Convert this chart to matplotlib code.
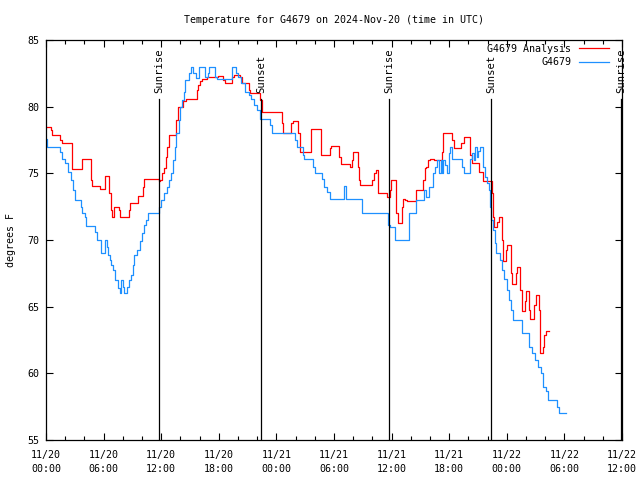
import pandas as pd
import matplotlib
matplotlib.use("Agg")
from matplotlib import pyplot as plt
import matplotlib.dates as mdates

# hours after 2024-11-20 00:00 UTC, temperature in F
obs_hours = [0.0, 0.15, 1.5, 1.7, 2.0, 2.3, 2.6, 2.8, 3.0, 3.6, 3.8, 4.05, 4.2, 5.1, 5.3,
             5.7, 6.15, 6.35, 6.5, 6.7, 6.8, 7.0, 7.2, 7.5, 7.7, 7.85, 8.0, 8.15, 8.45, 8.65,
             8.9, 9.05, 9.2, 9.5, 9.75, 10.0, 10.25, 10.45, 10.6, 11.8, 12.0, 12.3, 12.6, 12.8,
             13.0, 13.2, 13.4, 13.5, 13.9, 14.0, 14.2, 14.4, 14.5, 14.9, 15.1, 15.3, 15.6, 15.9,
             16.6, 16.85, 17.0, 17.6, 17.85, 19.35, 19.8, 20.0, 20.3, 20.7, 21.1, 21.4, 21.7,
             22.0, 22.3, 23.3, 23.5, 25.9, 26.1, 26.8, 26.9, 27.85, 28.0, 28.75, 28.95, 29.3,
             29.6, 31.05, 31.2, 32.9, 35.6, 35.8, 36.4, 37.8, 38.5, 39.4, 39.6, 39.85, 40.3,
             40.55, 40.75, 40.95, 41.1, 41.25, 41.4, 41.6, 41.8, 41.95, 42.1, 42.3, 43.3, 43.5,
             44.2, 44.4, 44.55, 44.7, 44.85, 45.0, 45.2, 45.55, 45.7, 45.9, 46.1, 46.2, 46.4,
             46.6, 46.8, 46.9, 47.3, 47.5, 47.7, 48.0, 48.2, 48.4, 48.6, 49.55, 50.35, 50.65,
             50.9, 51.2, 51.55, 51.75, 52.1, 52.3, 53.2, 53.4, 54.2]
obs_temp = [77.6, 77.0, 76.6, 76.1, 75.8, 75.1, 74.5, 73.75, 73.0, 72.5, 72.0, 71.75, 71.05, 70.6, 70.0,
            69.0, 70.0, 69.5, 68.9, 68.5, 68.1, 67.75, 67.0, 66.4, 66.0, 67.0, 66.5, 66.0, 66.5, 67.0,
            67.4, 68.1, 68.9, 69.25, 69.9, 70.5, 71.1, 71.5, 72.0, 72.5, 73.0, 73.5, 74.0, 74.5,
            75.0, 76.0, 77.0, 78.0, 79.0, 80.0, 80.5, 81.1, 82.0, 82.5, 83.0, 82.5, 82.15, 83.0,
            82.25, 82.5, 83.0, 82.2, 82.1, 83.0, 82.5, 82.2, 81.75, 81.1, 80.9, 80.6, 80.1,
            79.75, 79.1, 78.6, 78.05, 77.5, 77.0, 76.4, 76.05, 75.5, 75.0, 74.55, 74.0, 73.6,
            73.05, 74.05, 73.05, 72.0, 71.1, 71.0, 70.0, 72.0, 73.0, 73.75, 73.2, 74.0, 75.0,
            75.5, 76.0, 75.0, 76.0, 75.0, 76.0, 75.6, 75.0, 76.5, 77.0, 76.05, 75.5, 75.0,
            76.1, 76.5, 76.0, 77.0, 76.2, 76.7, 77.0, 75.5, 74.75, 74.25, 73.75, 72.5, 71.5,
            70.75, 69.75, 69.0, 68.5, 67.75, 67.05, 66.25, 65.5, 64.75, 64.0, 63.05, 62.0, 61.5,
            61.0, 60.5, 60.0, 59.0, 58.7, 58.0, 57.5, 57.0, 57.0]

ana_hours = [0.0, 0.5, 0.6, 1.5, 1.7, 2.7, 3.8, 4.7, 4.8, 5.6, 6.15, 6.6, 6.75, 6.85, 7.1,
             7.6, 7.7, 8.6, 8.75, 9.6, 10.1, 10.25, 11.75, 11.9, 12.1, 12.3, 12.5, 12.6, 12.8,
             13.55, 13.7, 13.8, 14.3, 14.6, 15.7, 15.85, 16.0, 16.3, 16.8, 17.5, 17.9, 18.4,
             18.65, 19.35, 19.55, 20.25, 20.4, 21.1, 21.3, 22.3, 22.45, 24.55, 24.65, 25.5,
             25.7, 26.3, 26.5, 27.6, 28.6, 29.55, 29.65, 30.5, 30.7, 31.7, 31.85, 32.0, 32.45,
             32.6, 32.75, 33.95, 34.2, 34.4, 34.6, 35.5, 35.85, 35.95, 36.5, 36.65, 37.05,
             37.15, 37.4, 37.6, 38.5, 39.3, 39.45, 39.6, 39.8, 39.95, 40.45, 41.25, 41.4,
             42.25, 42.5, 43.2, 43.5, 44.2, 44.35, 45.15, 45.5, 46.45, 46.55, 46.7, 47.0,
             47.15, 47.45, 47.6, 47.95, 48.05, 48.45, 48.55, 48.95, 49.1, 49.4, 49.55, 49.9,
             50.05, 50.35, 50.45, 50.85, 51.0, 51.35, 51.45, 51.8, 51.9, 52.05, 52.4]
ana_temp = [78.5, 78.25, 77.9, 77.5, 77.3, 75.3, 76.05, 74.5, 74.05, 73.85, 74.8, 73.5, 72.25, 71.75, 72.5,
            72.25, 71.75, 72.25, 72.8, 73.3, 74.0, 74.55, 74.4, 74.5, 75.0, 75.4, 76.25, 77.0, 77.9,
            79.0, 79.75, 80.0, 80.4, 80.6, 81.25, 81.6, 81.9, 82.05, 82.2, 82.25, 82.3, 82.0,
            81.75, 82.2, 82.4, 82.2, 81.75, 81.25, 81.0, 80.5, 79.6, 78.75, 78.05, 78.75,
            78.9, 78.0, 76.6, 78.3, 76.4, 76.9, 77.05, 76.25, 75.7, 75.5, 76.0, 76.6, 75.5,
            74.5, 74.1, 74.5, 75.0, 75.25, 73.5, 73.25, 73.75, 74.5, 72.0, 71.25, 72.5,
            73.1, 73.0, 72.9, 73.75, 74.5, 75.4, 75.5, 76.0, 76.1, 76.0, 76.6, 78.05,
            77.5, 76.9, 77.25, 77.7, 76.4, 75.75, 75.1, 74.4, 73.5, 71.75, 70.95, 71.35,
            71.75, 70.0, 68.4, 69.25, 69.6, 67.5, 66.7, 67.5, 68.0, 66.25, 64.7, 65.4,
            66.2, 64.75, 64.1, 65.1, 65.9, 64.75, 61.5, 62.0, 62.9, 63.2, 63.2]

sun_hours = [11.78, 22.4, 35.77, 46.37, 59.9]
sun_labels = ["Sunrise", "Sunset", "Sunrise", "Sunset", "Sunrise"]

base = pd.Timestamp("2024-11-20 00:00")
obs_t = base + pd.to_timedelta(obs_hours, unit="h")
ana_t = base + pd.to_timedelta(ana_hours, unit="h")
sun_t = base + pd.to_timedelta(sun_hours, unit="h")

plt.rcParams["font.family"] = "DejaVu Sans Mono"
plt.rcParams["font.size"] = 7.2

fig = plt.figure(figsize=(6.4, 4.8), dpi=100)
ax = fig.add_axes([46 / 640, 40 / 480, 576 / 640, 400 / 480])

ax.plot(ana_t, ana_temp, color="#ff0000", lw=0.9, drawstyle="steps-post", label="G4679 Analysis")
ax.plot(obs_t, obs_temp, color="#1e90ff", lw=0.9, drawstyle="steps-post", label="G4679")

for t, lab in zip(sun_t, sun_labels):
    ax.plot([t, t], [55, 80.6], color="black", lw=0.9)
    ax.text(t, 81.0, lab, rotation=90, ha="center", va="bottom", fontsize=7.6)

ax.set_xlim(base, base + pd.Timedelta(hours=60))
ax.set_ylim(55, 85)
ax.set_yticks(range(55, 86, 5))
ax.xaxis.set_major_locator(mdates.HourLocator(byhour=[0, 6, 12, 18]))
ax.xaxis.set_minor_locator(mdates.HourLocator(byhour=range(0, 24, 2)))
ax.xaxis.set_major_formatter(mdates.DateFormatter("%m/%d\n%H:%M"))
for lbl in ax.get_xticklabels():
    lbl.set_linespacing(1.5)
ax.tick_params(which="both", direction="in", top=True, right=True, width=0.8)
ax.tick_params(which="major", length=5, pad=7)
ax.tick_params(which="minor", length=3)
ax.tick_params(axis="y", pad=5)
for s in ax.spines.values():
    s.set_linewidth(0.9)

ax.set_ylabel("degrees F")
ax.yaxis.set_label_coords(-30 / 576, 0.5)
fig.text(334 / 640, 1 - 20 / 480, "Temperature for G4679 on 2024-Nov-20 (time in UTC)",
         ha="center", va="center")

ax.legend(loc="upper right", bbox_to_anchor=(0.981, 0.995), frameon=False,
          markerfirst=False, handlelength=3.0, handletextpad=0.8,
          labelspacing=0.35, borderaxespad=0, borderpad=0.2)

plt.savefig("out.png", dpi=100)
